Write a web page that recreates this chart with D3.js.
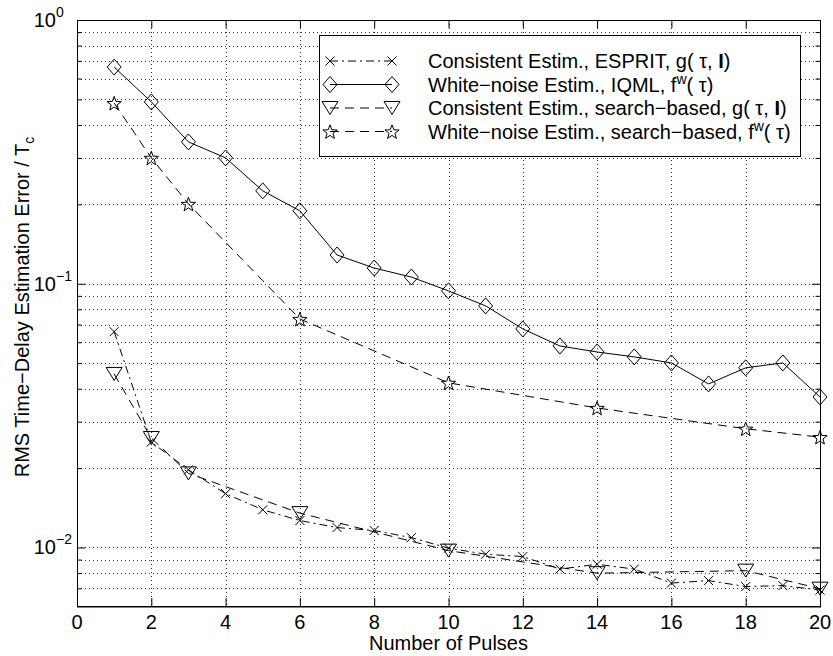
<!DOCTYPE html>
<html>
<head>
<meta charset="utf-8">
<script src="https://cdn.jsdelivr.net/npm/d3@7"></script>
<style>
  html, body { margin: 0; padding: 0; background: #fff; }
  svg { display: block; font-family: "Liberation Sans", Arial, Helvetica, sans-serif; }
</style>
</head>
<body>
<svg id="chart" width="833" height="656"></svg>
<script>
// ---- data ----
const pulses = d3.range(1, 21);
const esprit = [0.0658, 0.0251, 0.0197, 0.0160, 0.0139, 0.01265, 0.0119, 0.0116, 0.0109, 0.00994,
                0.00943, 0.00924, 0.00828, 0.00864, 0.00828, 0.00733, 0.00749, 0.00711, 0.00717, 0.0069];
const iqml = [0.663, 0.489, 0.345, 0.300, 0.225, 0.189, 0.1285, 0.1147, 0.106, 0.094,
              0.0824, 0.0674, 0.0581, 0.0551, 0.0528, 0.0501, 0.0417, 0.0480, 0.0501, 0.0372];
const searchPulses = [1, 2, 3, 6, 10, 14, 18, 20];
const consSearch = [0.0455, 0.0260, 0.0191, 0.0135, 0.00973, 0.00799, 0.00817, 0.00698];
const wnSearch = [0.484, 0.300, 0.2007, 0.0735, 0.0421, 0.0338, 0.0282, 0.0262];
const xTicks = d3.range(0, 21, 2);
const yMajor = [1, 0.1, 0.01];
const yExp = ["0", "\u22121", "\u22122"];
const yMinor = [0.007, 0.008, 0.009, 0.02, 0.03, 0.04, 0.05, 0.06, 0.07, 0.08, 0.09,
                0.2, 0.3, 0.4, 0.5, 0.6, 0.7, 0.8, 0.9];
const legendLabels = [
  ["Consistent Estim., ESPRIT, g( \u03c4, ", "I", ")"],
  ["White\u2212noise Estim., IQML, f", "w", "( \u03c4)"],
  ["Consistent Estim., search\u2212based, g( \u03c4, ", "I", ")"],
  ["White\u2212noise Estim., search\u2212based, f", "w", "( \u03c4)"]
];

// ---- layout ----
const L = 77, R = 820, T = 20, B = 606;
const FS = 20;
const svg = d3.select("#chart");
const x = d3.scaleLinear().domain([0, 20]).range([L, R]);
const y = d3.scaleLog().domain([0.006, 1]).range([B, T]);

// grid
const grid = svg.append("g").attr("stroke", "#333").attr("stroke-width", 1)
  .attr("stroke-dasharray", "1,3").attr("fill", "none");
xTicks.filter(d => d > 0 && d < 20).forEach(d => {
  grid.append("line").attr("x1", Math.round(x(d)) + 0.5).attr("x2", Math.round(x(d)) + 0.5)
    .attr("y1", T).attr("y2", B);
});
yMajor.concat(yMinor).filter(d => d < 1).forEach(d => {
  grid.append("line").attr("y1", Math.round(y(d)) + 0.5).attr("y2", Math.round(y(d)) + 0.5)
    .attr("x1", L).attr("x2", R);
});

// axes (ticks inward)
const axB = d3.axisBottom(x).tickValues(xTicks).tickSize(-8).tickFormat("");
const axT = d3.axisTop(x).tickValues(xTicks).tickSize(-8).tickFormat("");
const axL = d3.axisLeft(y).tickValues(yMajor).tickSize(-8).tickFormat("");
const axR = d3.axisRight(y).tickValues(yMajor).tickSize(-8).tickFormat("");
const axLm = d3.axisLeft(y).tickValues(yMinor).tickSize(-4.5).tickFormat("");
const axRm = d3.axisRight(y).tickValues(yMinor).tickSize(-4.5).tickFormat("");
function styleAx(g) { g.select(".domain").remove(); g.selectAll("line").attr("stroke", "#000"); }
svg.append("g").attr("transform", `translate(0,${B})`).call(axB).call(styleAx);
svg.append("g").attr("transform", `translate(0,${T})`).call(axT).call(styleAx);
svg.append("g").attr("transform", `translate(${L},0)`).call(axL).call(styleAx);
svg.append("g").attr("transform", `translate(${R},0)`).call(axR).call(styleAx);
svg.append("g").attr("transform", `translate(${L},0)`).call(axLm).call(styleAx);
svg.append("g").attr("transform", `translate(${R},0)`).call(axRm).call(styleAx);

// frame
svg.append("rect").attr("x", L + 0.5).attr("y", T + 0.5).attr("width", R - L).attr("height", B - T)
  .attr("fill", "none").attr("stroke", "#000").attr("stroke-width", 1);
svg.append("line").attr("x1", L).attr("x2", R + 1).attr("y1", B + 1).attr("y2", B + 1)
  .attr("stroke", "#000").attr("stroke-width", 1);

// tick labels
svg.append("g").selectAll("text").data(xTicks).join("text")
  .attr("x", d => x(d)).attr("y", 629).attr("text-anchor", "middle")
  .attr("font-size", FS).text(d => d);
yMajor.forEach((d, i) => {
  const yy = y(d);
  svg.append("text").attr("x", 56).attr("y", yy + 7).attr("text-anchor", "end")
    .attr("font-size", FS).text("10");
  svg.append("text").attr("x", 56).attr("y", yy - 3).attr("text-anchor", "start")
    .attr("font-size", 14).text(yExp[i]);
});

// axis labels
svg.append("text").attr("x", (L + R) / 2).attr("y", 650).attr("text-anchor", "middle")
  .attr("font-size", FS).text("Number of Pulses");
const yl = svg.append("text").attr("transform", `translate(29,${(T + B) / 2 - 6}) rotate(-90)`)
  .attr("text-anchor", "middle").attr("font-size", FS);
yl.append("tspan").text("RMS Time\u2212Delay Estimation Error / T");
yl.append("tspan").attr("font-size", 14).attr("dy", 5).text("c");

// marker shapes
function crossPath(s) { return `M${-s},${-s}L${s},${s}M${-s},${s}L${s},${-s}`; }
function diamondPath() { return "M0,-8L7,0L0,8L-7,0Z"; }
function triPath() { return "M-8,-6.5L8,-6.5L0,6.5Z"; }
function starPath() {
  const pts = [];
  for (let k = 0; k < 10; k++) {
    const r = k % 2 === 0 ? 7.5 : 3.1;
    const a = -Math.PI / 2 + k * Math.PI / 5;
    pts.push([r * Math.cos(a), r * Math.sin(a) + 0.8]);
  }
  return "M" + pts.map(p => p.join(",")).join("L") + "Z";
}

const series = [
  { xs: pulses, ys: esprit, dash: "8,4,2,4", marker: crossPath(4.5) },
  { xs: pulses, ys: iqml, dash: null, marker: diamondPath() },
  { xs: searchPulses, ys: consSearch, dash: "9,6", marker: triPath() },
  { xs: searchPulses, ys: wnSearch, dash: "9,6", marker: starPath() }
];

const line = d3.line().x(d => x(d[0])).y(d => y(d[1]));
series.forEach(s => {
  const pts = s.xs.map((v, i) => [v, s.ys[i]]);
  svg.append("path").datum(pts).attr("d", line).attr("fill", "none")
    .attr("stroke", "#000").attr("stroke-width", 1)
    .attr("stroke-dasharray", s.dash);
  svg.append("g").selectAll("path").data(pts).join("path")
    .attr("transform", d => `translate(${x(d[0])},${y(d[1])})`)
    .attr("d", s.marker).attr("fill", "none").attr("stroke", "#000").attr("stroke-width", 1);
});

// legend
const lg = svg.append("g");
lg.append("rect").attr("x", 319.5).attr("y", 35.5).attr("width", 481).attr("height", 121)
  .attr("fill", "#fff").attr("stroke", "#000").attr("stroke-width", 1);
const rowY = [61, 84.5, 108, 131.5];
series.forEach((s, i) => {
  const yy = rowY[i];
  lg.append("line").attr("x1", 330).attr("x2", 392).attr("y1", yy).attr("y2", yy)
    .attr("stroke", "#000").attr("stroke-width", 1).attr("stroke-dasharray", s.dash);
  [330, 392].forEach(xx => {
    lg.append("path").attr("transform", `translate(${xx},${yy})`).attr("d", s.marker)
      .attr("fill", "none").attr("stroke", "#000").attr("stroke-width", 1);
  });
  const t = lg.append("text").attr("x", 428).attr("y", yy + 7).attr("font-size", FS);
  const parts = legendLabels[i];
  t.append("tspan").text(parts[0]);
  if (parts[1] === "I") {
    t.append("tspan").attr("font-weight", "bold").text("I");
    t.append("tspan").text(parts[2]);
  } else {
    t.append("tspan").attr("font-size", 14).attr("dy", -8).text(parts[1]);
    t.append("tspan").attr("dy", 8).text(parts[2]);
  }
});
</script>
</body>
</html>
